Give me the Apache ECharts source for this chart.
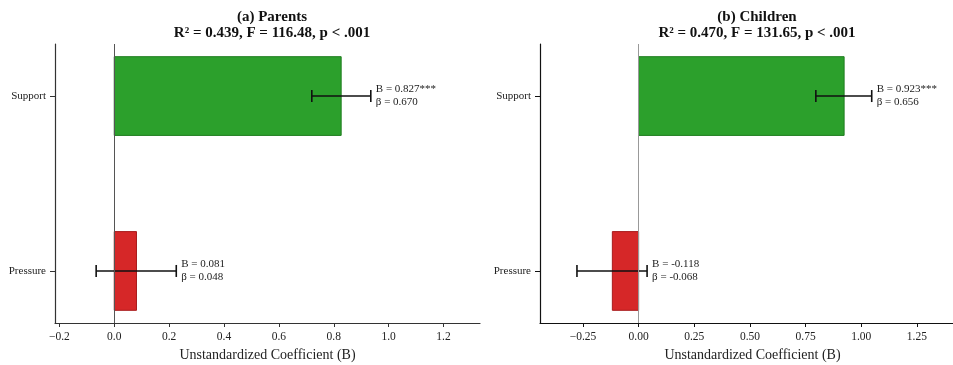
<!DOCTYPE html>
<html>
<head>
<meta charset="utf-8">
<script src="https://cdn.jsdelivr.net/npm/echarts@6/dist/echarts.min.js"></script>
<style>
  html, body { margin: 0; padding: 0; background: #ffffff; }
  #chart { width: 953px; height: 365px; }
</style>
</head>
<body>
<div id="chart"></div>
<script>
// categories from bottom to top of each panel
const categories = ['Pressure', 'Support']

// (a) Parents
const parentsB = [0.081, 0.827]
const parentsBeta = [0.048, 0.670]
const parentsLow = [-0.066, 0.720]
const parentsHigh = [0.226, 0.935]
const parentsSig = ['', '***']

// (b) Children
const childrenB = [-0.118, 0.923]
const childrenBeta = [-0.068, 0.656]
const childrenLow = [-0.277, 0.796]
const childrenHigh = [0.038, 1.047]
const childrenSig = ['', '***']

const parentsTicks = [-0.2, 0, 0.2, 0.4, 0.6, 0.8, 1.0, 1.2]
const childrenTicks = [-0.25, 0, 0.25, 0.5, 0.75, 1.0, 1.25]

const parentsTitle = '(a) Parents\nR² = 0.439, F = 116.48, p < .001'
const childrenTitle = '(b) Children\nR² = 0.470, F = 131.65, p < .001'

const serif = '"Liberation Serif", "DejaVu Serif", serif'
const barColors = ['#d62728', '#2ca02c']
const barEdges = ['#a81c1d', '#1f7d1f']
const barH = 0.45

const chart = echarts.init(document.getElementById('chart'))

const fmtMinus = (v, digits) => {
  const s = Math.abs(v).toFixed(digits)
  return v < 0 ? '\u2212' + s : s
}

const makeXAxis = (gridIndex, min, max, ticks, digits, lineColor) => ({
  type: 'value',
  gridIndex: gridIndex,
  min: min,
  max: max,
  name: 'Unstandardized Coefficient (B)',
  nameLocation: 'middle',
  nameGap: 24,
  nameTextStyle: { fontFamily: serif, fontSize: 14, color: '#222' },
  axisLine: { show: true, onZero: false, lineStyle: { color: lineColor, width: 1.2 } },
  axisTick: { show: true, length: 4, customValues: ticks, lineStyle: { color: lineColor } },
  axisLabel: {
    customValues: ticks,
    margin: 8,
    fontFamily: serif,
    fontSize: 11.5,
    color: '#222',
    formatter: (v) => fmtMinus(v, digits)
  },
  splitLine: { show: false }
})

const makeYAxis = (gridIndex, lineColor) => ({
  type: 'value',
  gridIndex: gridIndex,
  min: -0.2975,
  max: 1.2975,
  axisLine: { show: true, onZero: false, lineStyle: { color: lineColor, width: 1.2 } },
  axisTick: { show: true, length: 5, customValues: [0, 1], lineStyle: { color: lineColor } },
  axisLabel: {
    customValues: [0, 1],
    margin: 9,
    fontFamily: serif,
    fontSize: 11,
    color: '#222',
    formatter: (v) => categories[Math.round(v)]
  },
  splitLine: { show: false }
})

const makeSeries = (axisIndex, B, beta, low, high, sig, zeroColor) => ({
  type: 'custom',
  xAxisIndex: axisIndex,
  yAxisIndex: axisIndex,
  data: categories.map((c, i) => [i, B[i], low[i], high[i]]),
  renderItem: (params, api) => {
    const i = api.value(0)
    const b = api.value(1)
    const p0 = api.coord([0, i + barH / 2])
    const p1 = api.coord([b, i - barH / 2])
    const a = api.coord([api.value(2), i])
    const c = api.coord([api.value(3), i])
    const idx = params.dataIndex
    return {
      type: 'group',
      children: [
        {
          type: 'rect',
          shape: {
            x: Math.min(p0[0], p1[0]),
            y: p0[1],
            width: Math.abs(p1[0] - p0[0]),
            height: p1[1] - p0[1]
          },
          style: { fill: barColors[idx], stroke: barEdges[idx], lineWidth: 1 }
        },
        {
          type: 'line',
          shape: { x1: a[0], y1: a[1], x2: c[0], y2: c[1] },
          style: { stroke: '#111', lineWidth: 1.6 }
        },
        {
          type: 'line',
          shape: { x1: a[0], y1: a[1] - 6, x2: a[0], y2: a[1] + 6 },
          style: { stroke: '#111', lineWidth: 1.6 }
        },
        {
          type: 'line',
          shape: { x1: c[0], y1: c[1] - 6, x2: c[0], y2: c[1] + 6 },
          style: { stroke: '#111', lineWidth: 1.6 }
        },
        {
          type: 'text',
          x: c[0] + 5,
          y: c[1],
          style: {
            text: 'B = ' + b.toFixed(3) + sig[idx] + '\nβ = ' + beta[idx].toFixed(3),
            font: '11px ' + serif,
            lineHeight: 13,
            fill: '#222',
            align: 'left',
            verticalAlign: 'middle'
          }
        }
      ]
    }
  },
  markLine: {
    silent: true,
    symbol: 'none',
    label: { show: false },
    lineStyle: { color: zeroColor, width: 1, type: 'solid' },
    data: [{ xAxis: 0 }]
  }
})

const option = {
  animation: false,
  title: [
    {
      text: parentsTitle,
      left: 267,
      top: 4,
      textAlign: 'center',
      textStyle: { fontFamily: serif, fontSize: 15, fontWeight: 'bold', color: '#111', lineHeight: 16 }
    },
    {
      text: childrenTitle,
      left: 752,
      top: 4,
      textAlign: 'center',
      textStyle: { fontFamily: serif, fontSize: 15, fontWeight: 'bold', color: '#111', lineHeight: 16 }
    }
  ],
  grid: [
    { left: 55, top: 44, width: 425, height: 279, outerBoundsMode: 'none' },
    { left: 540, top: 44, width: 425, height: 279, outerBoundsMode: 'none' }
  ],
  xAxis: [
    makeXAxis(0, -0.216, 1.333, parentsTicks, 1, '#333'),
    makeXAxis(1, -0.443, 1.466, childrenTicks, 2, '#111')
  ],
  yAxis: [makeYAxis(0, '#333'), makeYAxis(1, '#111')],
  series: [
    makeSeries(0, parentsB, parentsBeta, parentsLow, parentsHigh, parentsSig, '#555'),
    makeSeries(1, childrenB, childrenBeta, childrenLow, childrenHigh, childrenSig, '#999')
  ]
}

chart.setOption(option)
</script>
</body>
</html>
